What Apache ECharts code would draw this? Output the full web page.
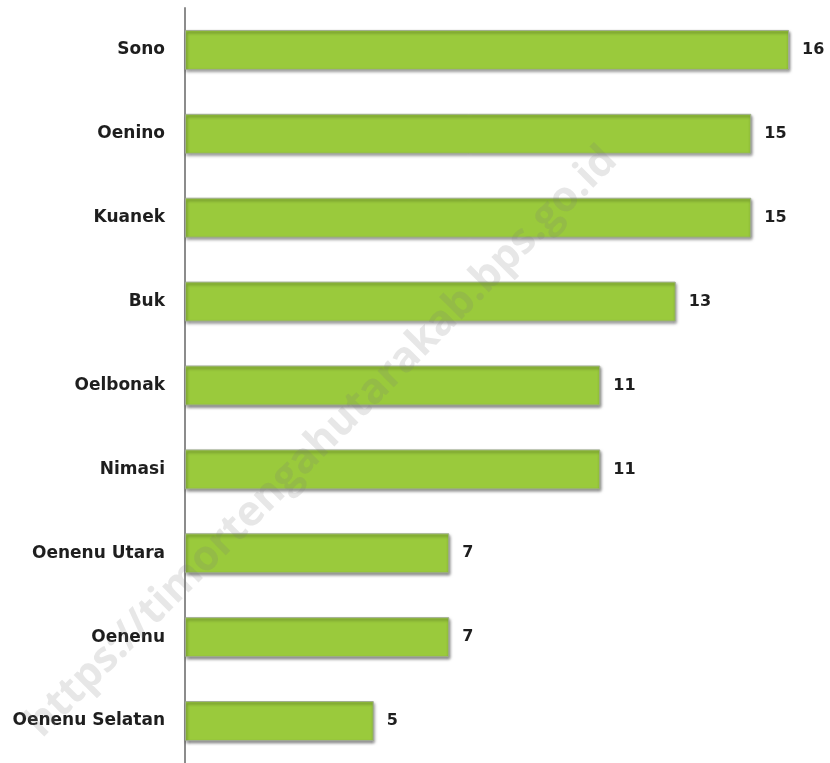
<!DOCTYPE html>
<html>
<head>
<meta charset="utf-8">
<script src="https://cdn.jsdelivr.net/npm/echarts@6/dist/echarts.min.js"></script>
<style>
  html, body { margin: 0; padding: 0; background: #fff; }
  #chart { width: 830px; height: 763px; }
</style>
</head>
<body>
<div id="chart"></div>
<script>
// kategori dari atas ke bawah
const villages = ['Sono', 'Oenino', 'Kuanek', 'Buk', 'Oelbonak', 'Nimasi', 'Oenenu Utara', 'Oenenu', 'Oenenu Selatan'];
const counts = [16, 15, 15, 13, 11, 11, 7, 7, 5];
const watermark = 'https://timortengahutarakab.bps.go.id';

const chart = echarts.init(document.getElementById('chart'));
chart.setOption({
  animation: false,
  grid: { left: 185, right: 41, top: 8, bottom: 0 },
  xAxis: {
    type: 'value',
    min: 0,
    max: 16,
    show: false
  },
  yAxis: {
    type: 'category',
    inverse: true,
    data: villages,
    axisLine: { show: true, lineStyle: { color: '#8c8c8c', width: 2 } },
    axisTick: { show: false },
    axisLabel: {
      margin: 20,
      color: '#1e1e1e',
      fontFamily: 'DejaVu Sans',
      fontWeight: 'bold',
      fontSize: 17
    }
  },
  series: [{
    type: 'bar',
    data: counts,
    barWidth: 40,
    itemStyle: {
      color: '#9aca3c',
      borderColor: '#a0ad90',
      borderWidth: 1,
      shadowColor: 'rgba(0,0,0,0.5)',
      shadowBlur: 3,
      shadowOffsetX: 1,
      shadowOffsetY: 2
    },
    label: {
      show: true,
      position: 'right',
      distance: 13,
      color: '#1e1e1e',
      fontFamily: 'DejaVu Sans',
      fontWeight: 'bold',
      fontSize: 16
    }
  }],
  graphic: [{
    type: 'text',
    x: 322,
    y: 442,
    rotation: Math.PI / 4,
    z: 100,
    style: {
      text: watermark,
      fill: 'rgba(120,120,120,0.18)',
      font: 'bold 42px "Open Sans"',
      align: 'center',
      verticalAlign: 'middle'
    }
  }]
});
</script>
</body>
</html>
